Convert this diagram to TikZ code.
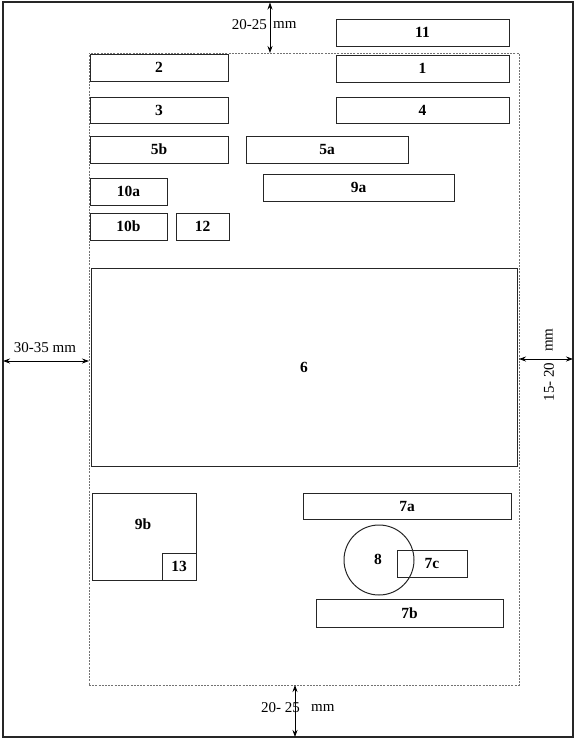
\documentclass[tikz,border=0pt]{standalone}
\usepackage{fontspec}
\setmainfont{Liberation Serif}
\usetikzlibrary{arrows.meta}
\begin{document}
\begin{tikzpicture}[x=1pt,y=-1pt,
  bx/.style={draw=black!85,line width=1pt,inner sep=0pt,font=\fontsize{15.5}{17}\selectfont\bfseries},
  lbl/.style={inner sep=0pt,font=\fontsize{15.5}{17}\selectfont\bfseries},
  outerframe/.style={draw=black!85,line width=1.4pt,inner sep=0pt},
  innerframe/.style={draw=black!55,line width=0.6pt,dash pattern=on 2pt off 1.2pt,inner sep=0pt},
  dimtxt/.style={inner sep=0pt,font=\fontsize{15}{17}\selectfont},
  dim/.style={line width=0.8pt,{Stealth[length=7pt,width=5pt]}-{Stealth[length=7pt,width=5pt]}}]
\useasboundingbox (0,0) rectangle (576,740);
% frames
\node[outerframe,minimum width=570pt,minimum height=735pt] (page) at (288,369.5) {};
\node[innerframe,minimum width=430pt,minimum height=632pt] (area) at (304,369) {};
% top boxes
\node[bx,minimum width=173pt,minimum height=27pt] (b11) at (422.5,32.5) {11};
\node[bx,minimum width=173pt,minimum height=27pt] (b1) at (422.5,68.5) {1};
\node[bx,minimum width=173pt,minimum height=26pt] (b4) at (422.5,110) {4};
\node[bx,minimum width=138pt,minimum height=27pt] (b2) at (159,67.5) {2};
\node[bx,minimum width=138pt,minimum height=26pt] (b3) at (159,110) {3};
\node[bx,minimum width=138pt,minimum height=27pt] (b5b) at (159,149.5) {5b};
\node[bx,minimum width=162pt,minimum height=27pt] (b5a) at (327,149.5) {5a};
\node[bx,minimum width=77pt,minimum height=27pt] (b10a) at (128.5,191.5) {10a};
\node[bx,minimum width=191pt,minimum height=27pt] (b9a) at (358.5,187.5) {9a};
\node[bx,minimum width=77pt,minimum height=27pt] (b10b) at (128.5,226.5) {10b};
\node[bx,minimum width=53pt,minimum height=27pt] (b12) at (202.5,226.5) {12};
% main box
\node[bx,minimum width=426pt,minimum height=198pt] (b6) at (304,367) {6};
% bottom left
\node[bx,minimum width=104pt,minimum height=87pt] (b9b) at (144,536.5) {};
\node[lbl] (l9b) at (143,524) {9b};
\node[bx,minimum width=34pt,minimum height=27pt] (b13) at (179,566.5) {13};
% bottom right
\node[bx,minimum width=208pt,minimum height=26pt] (b7a) at (407,506) {7a};
\node[draw=black!85,line width=1pt,circle,minimum size=70pt,inner sep=0pt] (c8) at (379,560) {};
\node[lbl] (l8) at (378,559) {8};
\node[bx,minimum width=70pt,minimum height=27pt] (b7c) at (432,563.5) {7c};
\node[bx,minimum width=187pt,minimum height=28pt] (b7b) at (409.5,613) {7b};
% dimension arrows
\coordinate (tA) at (270,2.5);
\coordinate (tB) at (270,53);
\draw[dim] (tA) -- (tB);
\node[dimtxt,anchor=east] (t1) at (267,25) {20-25};
\node[dimtxt,anchor=west] (t2) at (273,25) {mm};
\coordinate (lA) at (3,361);
\coordinate (lB) at (89,361);
\draw[dim] (lA) -- (lB);
\node[dimtxt] (l1) at (45,348) {30-35 mm};
\coordinate (rA) at (519,359);
\coordinate (rB) at (573,359);
\draw[dim] (rA) -- (rB);
\node[dimtxt,rotate=90] (r1) at (549,382) {15- 20};
\node[dimtxt,rotate=90] (r2) at (549,340) {mm};
\coordinate (bA) at (295,685);
\coordinate (bB) at (295,737);
\draw[dim] (bA) -- (bB);
\node[dimtxt,anchor=east] (d1) at (300,708) {20- 25};
\node[dimtxt,anchor=west] (d2) at (311,708) {mm};
\end{tikzpicture}
\end{document}
